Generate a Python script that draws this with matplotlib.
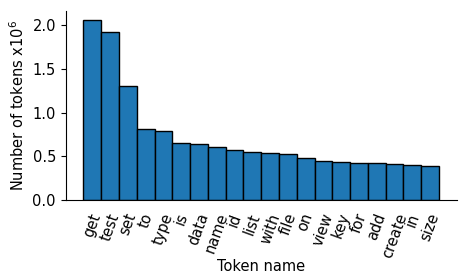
import matplotlib
matplotlib.use('Agg')
import matplotlib.pyplot as plt

# token counts, in millions
tokens = ['get', 'test', 'set', 'to', 'type', 'is', 'data', 'name', 'id', 'list',
          'with', 'file', 'on', 'view', 'key', 'for', 'add', 'create', 'in', 'size']
counts = [2.063, 1.918, 1.300, 0.809, 0.793, 0.648, 0.637, 0.603, 0.568, 0.546,
          0.534, 0.523, 0.477, 0.443, 0.431, 0.420, 0.420, 0.408, 0.397, 0.386]

plt.rcParams['font.size'] = 10.5

fig, ax = plt.subplots(figsize=(4.66, 2.79), dpi=100)
positions = range(len(tokens))
ax.bar(positions, counts, width=1.0, color='#1f77b4', edgecolor='black', linewidth=1)
ax.set_xticks(list(positions))
ax.set_xticklabels(tokens, rotation=70)
ax.tick_params(axis='x', length=0, pad=8)
ax.set_xlim(-1.5, 20.5)
ax.set_yticks([0.0, 0.5, 1.0, 1.5, 2.0])
ax.set_xlabel('Token name', labelpad=-1)
ax.set_ylabel('Number of tokens x$10^6$')
ax.spines['top'].set_visible(False)
ax.spines['right'].set_visible(False)

fig.subplots_adjust(left=0.141, right=0.98, top=0.962, bottom=0.283)
fig.savefig('out.png')
